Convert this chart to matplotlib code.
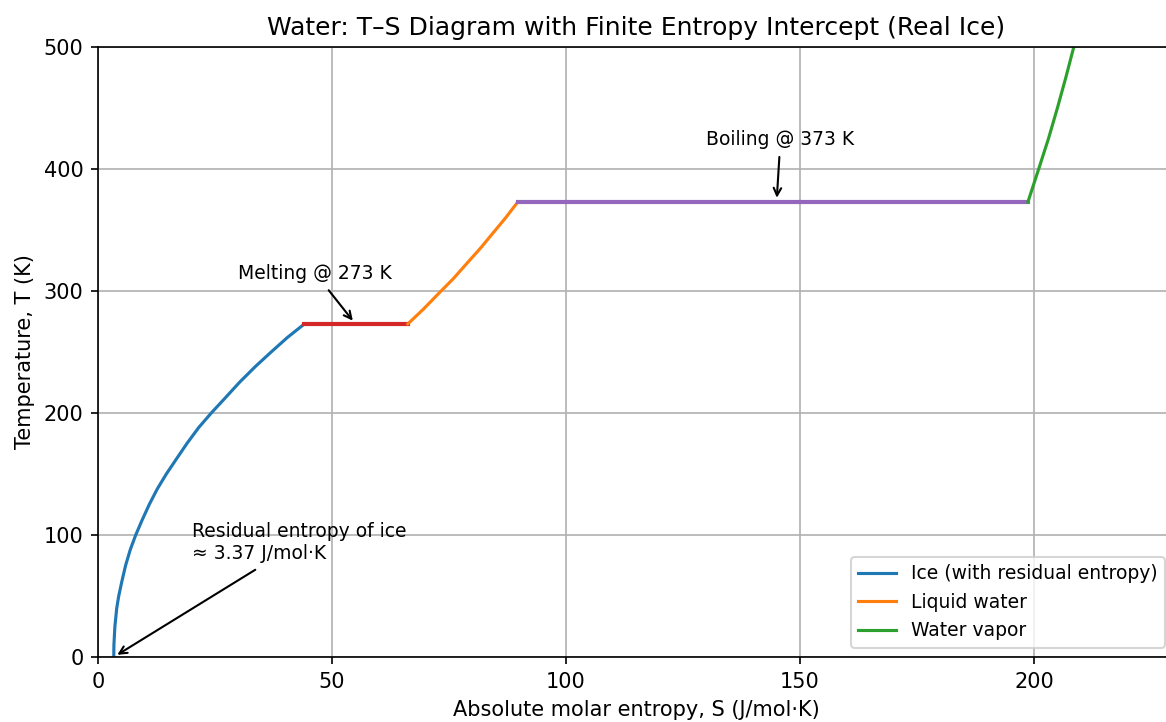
import matplotlib
matplotlib.use('Agg')
import matplotlib.pyplot as plt
import numpy as np

# values
ice_T = [0, 10, 25, 40, 50, 62, 75, 88, 100, 112, 125, 138, 150, 162, 175, 188, 200, 212, 225, 238, 250, 262, 273]
ice_S = [3.37, 3.40, 3.61, 4.00, 4.43, 5.10, 5.89, 6.90, 8.06, 9.40, 10.95, 12.70, 14.60, 16.70, 19.00, 21.50, 24.20, 27.10, 30.20, 33.60, 37.00, 40.50, 44.10]

melt_S = [44.1, 66.2]
melt_T = [273, 273]

liq_T = [273, 285, 298, 310, 323, 335, 348, 360, 373]
liq_S = [66.2, 69.5, 72.8, 75.9, 78.9, 81.7, 84.5, 87.1, 89.7]

boil_S = [89.7, 198.7]
boil_T = [373, 373]

vap_T = [373, 400, 425, 450, 475, 500]
vap_S = [198.7, 201.0, 203.1, 205.0, 206.8, 208.5]

W, H = 1166, 722
fig = plt.figure(figsize=(W / 150, H / 150), dpi=150)
ax = fig.add_axes([98 / W, 65 / H, (1174.4 - 98) / W, 610 / H])

ax.plot(ice_S, ice_T, color='#1f77b4', lw=1.5, label='Ice (with residual entropy)')
ax.plot(melt_S, melt_T, color='#d62728', lw=2)
ax.plot(liq_S, liq_T, color='#ff7f0e', lw=1.5, label='Liquid water')
ax.plot(boil_S, boil_T, color='#9467bd', lw=2)
ax.plot(vap_S, vap_T, color='#2ca02c', lw=1.5, label='Water vapor')

ax.annotate('Melting @ 273 K', xy=(55, 273), xytext=(30, 310), fontsize=9,
            arrowprops=dict(arrowstyle='->', color='black', lw=1))
ax.annotate('Boiling @ 373 K', xy=(145, 373), xytext=(130, 420), fontsize=9,
            arrowprops=dict(arrowstyle='->', color='black', lw=1))
ax.annotate('Residual entropy of ice\n≈ 3.37 J/mol·K', xy=(3.37, 0), xytext=(20, 80), fontsize=9,
            arrowprops=dict(arrowstyle='->', color='black', lw=1))

ax.set_xlim(0, 230)
ax.set_ylim(0, 500)
ax.grid(True, color='#b0b0b0', lw=0.8)
ax.set_xlabel('Absolute molar entropy, S (J/mol·K)')
ax.set_ylabel('Temperature, T (K)')
ax.set_title('Water: T–S Diagram with Finite Entropy Intercept (Real Ice)')
ax.legend(loc='lower right', fontsize=9)

plt.savefig('out.png')
